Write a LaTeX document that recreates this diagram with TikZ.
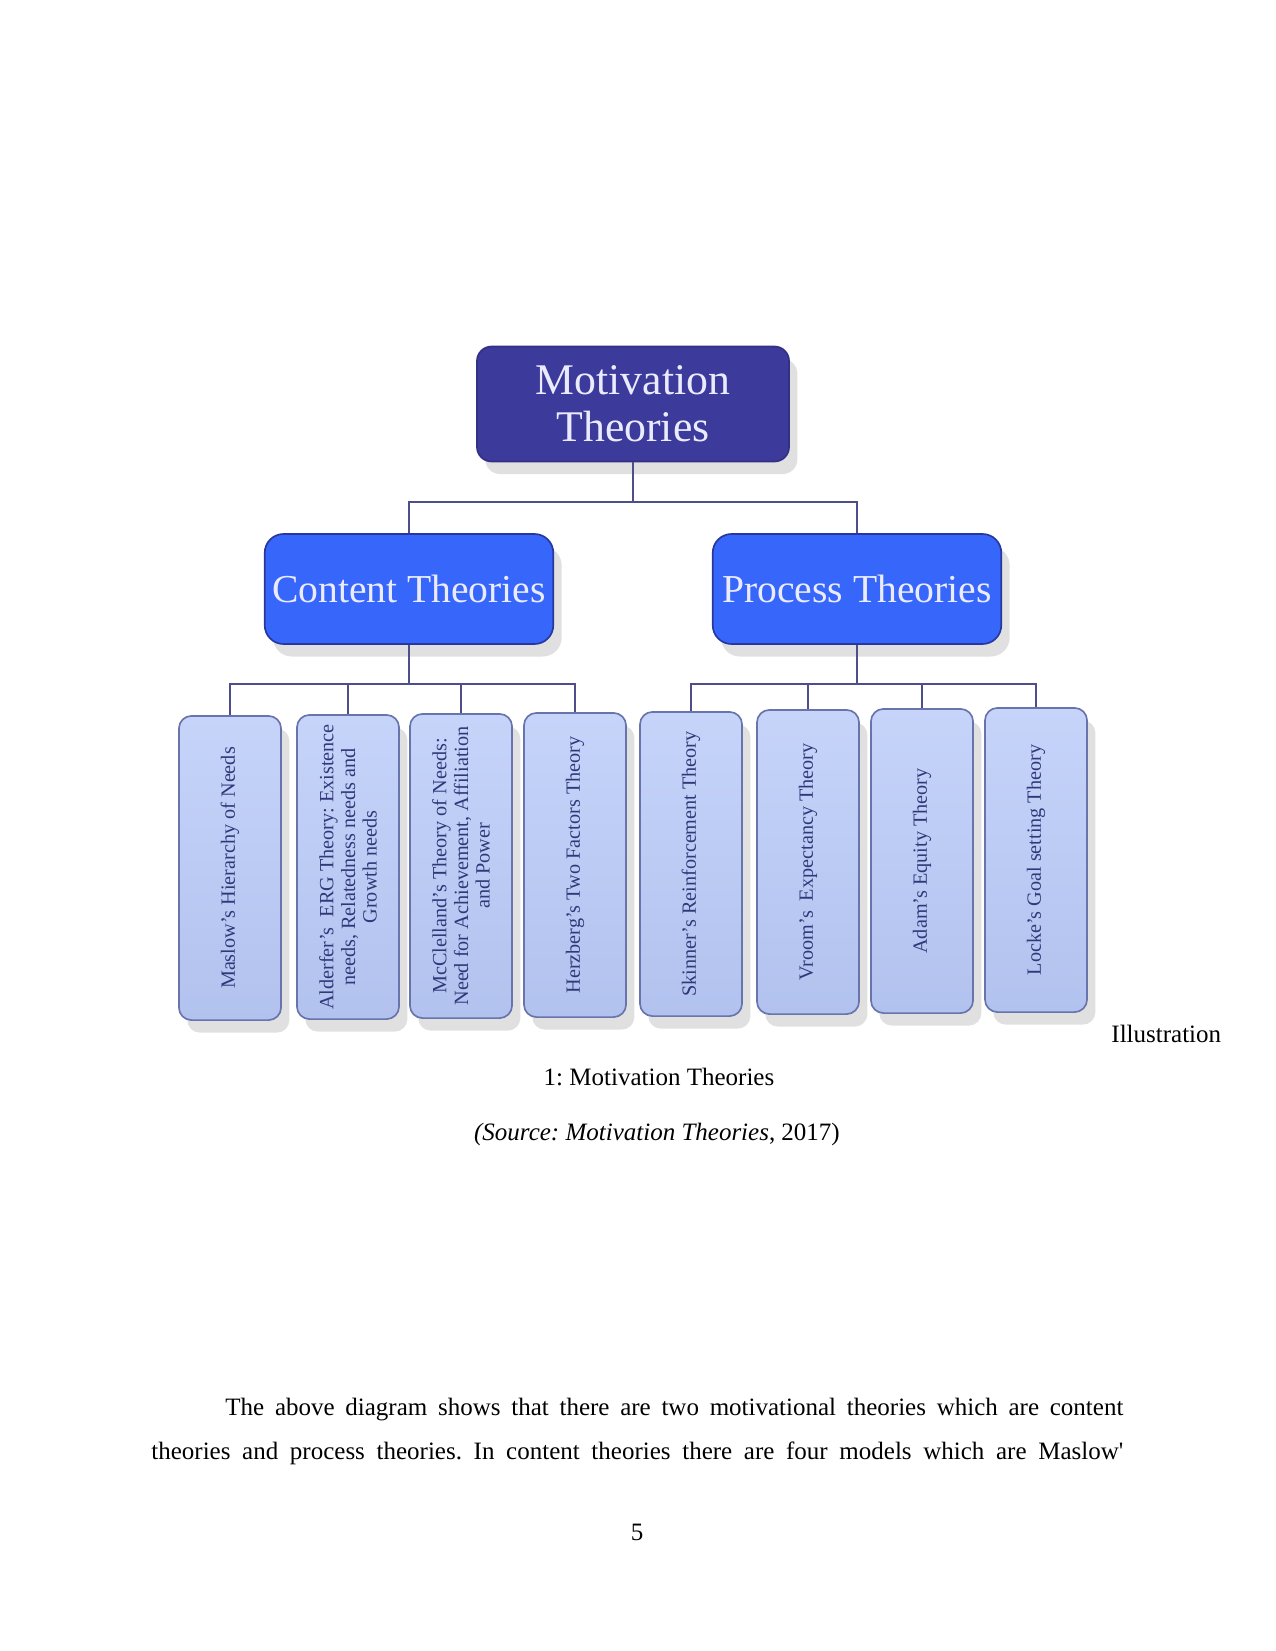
\documentclass[tikz,border=0pt]{standalone}
\usepackage{fontspec}
\setmainfont{Liberation Serif}
\frenchspacing
\usetikzlibrary{shadows}
\definecolor{topblue}{RGB}{60,58,155}
\definecolor{midblue}{RGB}{55,102,250}
\definecolor{midedge}{RGB}{40,55,160}
\definecolor{leaffill}{RGB}{178,194,238}
\definecolor{leaftop}{RGB}{198,212,250}
\definecolor{leafedge}{RGB}{105,115,172}
\definecolor{leafink}{RGB}{48,56,122}
\definecolor{linkcol}{RGB}{78,78,140}
\newcommand{\pagefont}{\fontsize{12}{14.4}\selectfont}

\begin{document}
\begin{tikzpicture}[x=0.48pt,y=-0.48pt,
    boxshadow/.style={drop shadow={shadow xshift=4pt,shadow yshift=-6pt,fill=black!12,opacity=1}},
    topbox/.style={rectangle,rounded corners=7pt,fill=topblue,draw=topblue!85!black,thick,
      minimum width=149.8pt,minimum height=55.2pt,align=center,text=white!92!blue,
      font=\fontsize{21}{22.6}\selectfont,boxshadow},
    midbox/.style={rectangle,rounded corners=9pt,fill=midblue,draw=midedge,thick,
      minimum width=138.5pt,minimum height=52.8pt,align=center,text=white!92!blue,
      font=\fontsize{19}{22}\selectfont,boxshadow},
    leafbox/.style={rectangle,rounded corners=6pt,top color=leaftop,bottom color=leaffill,
      draw=leafedge,thick,minimum width=49pt,minimum height=146pt,boxshadow},
    leaflabel/.style={rotate=90,align=center,text=leafink,inner sep=0pt,
      font=\fontsize{9.7}{10.4}\selectfont},
    link/.style={draw=linkcol,line width=1pt},
    pagetext/.style={inner sep=0pt,font=\pagefont}]
  \useasboundingbox (0,0) rectangle (1275,1651);
  % tree
  \node[topbox] (mt) at (633,404) {Motivation\\Theories};
  \node[midbox] (ct) at (409,589) {Content Theories};
  \node[midbox] (pt) at (857,589) {Process Theories};
  \foreach \n/\x/\y in {c1/230/868,c2/348/867,c3/461/866,c4/575/865,
                        p1/691/864,p2/808/862,p3/922/861,p4/1036/860}
    \node[leafbox] (\n) at (\x,\y) {};
  \node[leaflabel] at (c1) {Maslow's Hierarchy of Needs};
  \node[leaflabel] at (c2) {Alderfer's\ \ ERG Theory: Existence\\needs, Relatedness needs and\\Growth needs};
  \node[leaflabel] at (c3) {McClelland's Theory of Needs:\\Need for Achievement, Affiliation\\and Power};
  \node[leaflabel] at (c4) {Herzberg's Two Factors Theory};
  \node[leaflabel] at (p1) {Skinner's Reinforcement Theory};
  \node[leaflabel] at (p2) {Vroom's\ \ Expectancy Theory};
  \node[leaflabel] at (p3) {Adam's Equity Theory};
  \node[leaflabel] at (p4) {Locke's Goal setting Theory};
  % connectors
  \coordinate (topbus) at (633,502);
  \coordinate (cbus) at (409,684);
  \coordinate (pbus) at (857,684);
  \draw[link] (mt.south) -- (topbus);
  \draw[link] (topbus) -| (ct.north);
  \draw[link] (topbus) -| (pt.north);
  \draw[link] (ct.south) -- (cbus);
  \draw[link] (pt.south) -- (pbus);
  \foreach \n in {c1,c2,c3,c4}
    \draw[link] (cbus) -| (\n.north);
  \foreach \n in {p1,p2,p3,p4}
    \draw[link] (pbus) -| (\n.north);
  % caption and page text
  \node[pagetext,anchor=base west] (ill) at (1111,1042) {Illustration};
  \node[pagetext,anchor=base] (cap) at (659,1085) {1: Motivation Theories};
  \node[pagetext,anchor=base] (src) at (657,1140) {\textit{(Source: Motivation Theories}, 2017)};
  \node[pagetext,anchor=base west] (par1) at (225,1415)
    {\makebox[431pt][s]{The above diagram shows that there are two motivational theories which are content}};
  \node[pagetext,anchor=base west] (par2) at (151,1459)
    {\makebox[466.5pt][s]{theories and process theories. In content theories there are four models which are Maslow\textquotesingle}};
  \node[pagetext,anchor=base] (pg) at (637,1540) {5};
\end{tikzpicture}
\end{document}
